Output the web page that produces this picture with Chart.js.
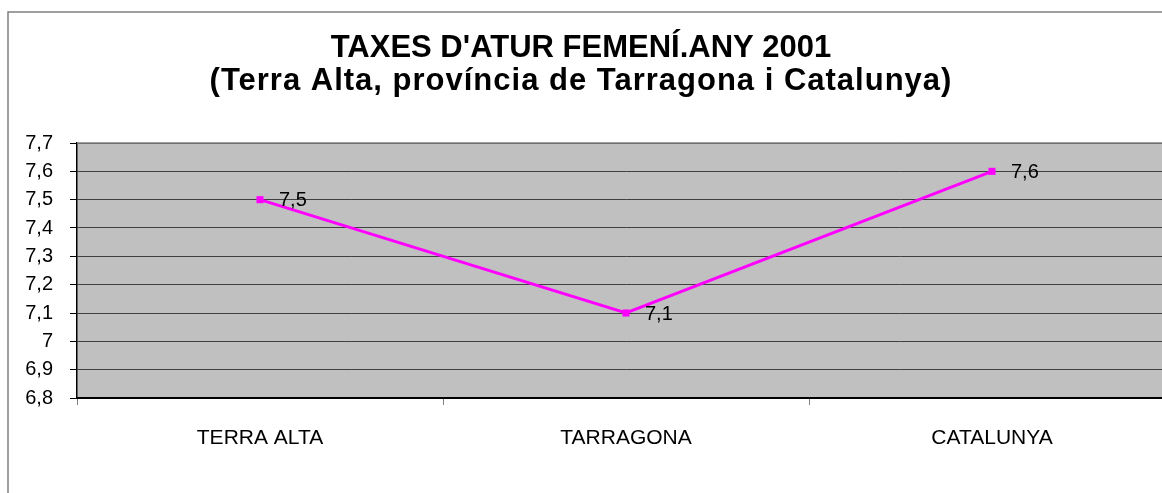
<!DOCTYPE html>
<html>
<head>
<meta charset="utf-8">
<script src="https://cdn.jsdelivr.net/npm/chart.js@4/dist/chart.umd.min.js"></script>
<style>
html,body{margin:0;padding:0;background:#fff;overflow:hidden;}
#wrap{position:absolute;left:0;top:0;width:1190px;height:493px;}
</style>
</head>
<body>
<div id="wrap"><canvas id="c" width="1190" height="493"></canvas></div>
<script>
const titleLines = ["TAXES D'ATUR FEMENÍ.ANY 2001", "(Terra Alta, província de Tarragona i Catalunya)"];
const categories = ["TERRA ALTA", "TARRAGONA", "CATALUNYA"];
const values = [7.5, 7.1, 7.6];
const yMin = 6.8, yMax = 7.7, yStep = 0.1;

const fmt = v => Number(v.toFixed(1)).toString().replace('.', ',');
const FONT = '"Liberation Sans", Arial, sans-serif';

const decor = {
  id: 'decor',
  beforeDraw(chart) {
    const ctx = chart.ctx, a = chart.chartArea;
    ctx.save();
    ctx.fillStyle = '#fff';
    ctx.fillRect(0, 0, chart.width, chart.height);
    ctx.fillStyle = '#C0C0C0';
    ctx.fillRect(a.left, a.top, a.right - a.left, a.bottom - a.top);
    // outer frame
    ctx.strokeStyle = '#808080';
    ctx.lineWidth = 1.5;
    ctx.beginPath();
    ctx.moveTo(8, chart.height + 2);
    ctx.lineTo(8, 12);
    ctx.lineTo(chart.width + 2, 12);
    ctx.stroke();
    // title
    ctx.fillStyle = '#000';
    ctx.font = 'bold 31px ' + FONT;
    ctx.textAlign = 'center';
    ctx.textBaseline = 'middle';
    ctx.fillText(titleLines[0], 581, 48);
    if ('letterSpacing' in ctx) ctx.letterSpacing = '1px';
    ctx.fillText(titleLines[1], 581, 81);
    if ('letterSpacing' in ctx) ctx.letterSpacing = '0px';
    ctx.restore();
  },
  afterDraw(chart) {
    const ctx = chart.ctx, a = chart.chartArea;
    ctx.save();
    ctx.strokeStyle = '#808080';
    ctx.lineWidth = 1.5;
    ctx.beginPath();
    ctx.moveTo(a.left, a.top);
    ctx.lineTo(a.right, a.top);
    ctx.stroke();
    ctx.restore();
  },
  afterDatasetsDraw(chart) {
    const ctx = chart.ctx;
    const meta = chart.getDatasetMeta(0);
    ctx.save();
    ctx.fillStyle = '#000';
    ctx.font = '20px ' + FONT;
    ctx.textAlign = 'left';
    ctx.textBaseline = 'middle';
    meta.data.forEach((pt, i) => {
      ctx.fillText(fmt(values[i]), pt.x + 19, pt.y + 1);
    });
    ctx.restore();
  }
};

new Chart(document.getElementById('c'), {
  type: 'line',
  data: {
    labels: categories,
    datasets: [{
      data: values,
      borderColor: '#FF00FF',
      backgroundColor: '#FF00FF',
      borderWidth: 3,
      pointStyle: 'rect',
      pointRadius: 5,
      pointBorderWidth: 0,
      pointBackgroundColor: '#FF00FF',
      tension: 0,
      clip: false
    }]
  },
  options: {
    responsive: false,
    animation: false,
    devicePixelRatio: 1,
    layout: { padding: { left: 0, right: 15, top: 143, bottom: 0 } },
    plugins: { legend: { display: false }, title: { display: false }, tooltip: { enabled: false } },
    scales: {
      x: {
        offset: true,
        grid: { offset: true, drawOnChartArea: false, tickLength: 7, color: '#000', tickColor: '#808080' },
        border: { color: '#000', width: 2 },
        ticks: { color: '#000', font: { family: FONT, size: 21 }, padding: 21, maxRotation: 0 },
        afterFit(s) { s.height = 95; }
      },
      y: {
        min: yMin, max: yMax,
        grid: { color: '#404040', lineWidth: 1, tickLength: 7, tickColor: '#000' },
        border: { color: '#000', width: 1.5 },
        ticks: {
          stepSize: yStep,
          color: '#000',
          font: { family: FONT, size: 20 },
          padding: 17,
          callback: v => fmt(v)
        },
        afterFit(s) { s.width = 77; }
      }
    }
  },
  plugins: [decor]
});
</script>
</body>
</html>
